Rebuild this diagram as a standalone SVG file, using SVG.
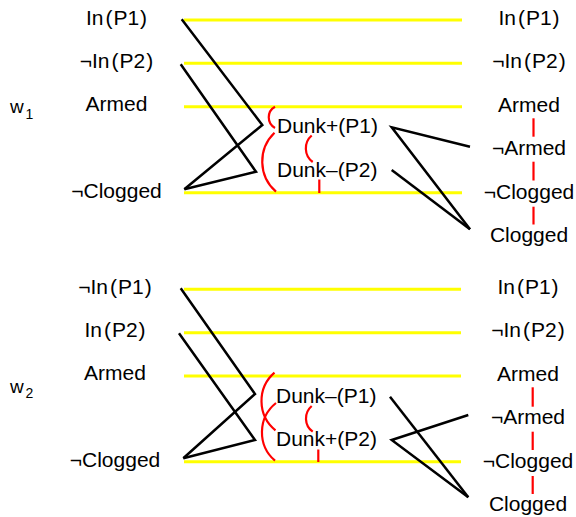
<svg xmlns="http://www.w3.org/2000/svg" width="576" height="517" viewBox="0 0 576 517">
  <defs>
    <style>
      text { font-family: "Liberation Sans", Arial, sans-serif; font-size: 21px; fill: #000; }
      .lbl { text-anchor: middle; }
      .w { font-size: 19px; }
      .sub { font-size: 14px; }
      .track { stroke: #ffff00; stroke-width: 3; fill: none; }
      .link { stroke: #000; stroke-width: 2.5; fill: none; stroke-linejoin: miter; }
      .mutex { stroke: #ff0000; stroke-width: 2.2; fill: none; }
    </style>
  </defs>
  <rect width="576" height="517" fill="#fff"/>

  <!-- persistence tracks -->
  <g id="tracks">
    <line class="track" x1="184" y1="20" x2="462" y2="20"/>
    <line class="track" x1="184" y1="63.3" x2="462" y2="63.3"/>
    <line class="track" x1="184" y1="106.7" x2="462" y2="106.7"/>
    <line class="track" x1="184" y1="192.7" x2="462" y2="192.7"/>
    <line class="track" x1="184" y1="289.3" x2="461" y2="289.3"/>
    <line class="track" x1="184" y1="332.7" x2="461" y2="332.7"/>
    <line class="track" x1="184" y1="376" x2="461" y2="376"/>
    <line class="track" x1="184" y1="461.7" x2="461" y2="461.7"/>
  </g>

  <!-- world labels -->
  <g id="w1"><text class="w" x="10" y="113">w</text><text class="sub" x="25.5" y="119">1</text></g>
  <g id="w2"><text class="w" x="10" y="392.5">w</text><text class="sub" x="25.5" y="398">2</text></g>

  <!-- world 1: initial literals -->
  <g id="w1-in-p1"><text class="lbl" x="116.5" y="25">In<tspan dx="2">(</tspan><tspan dx="1">P1</tspan><tspan dx="1">)</tspan></text></g>
  <g id="w1-not-in-p2"><text class="lbl" x="116.5" y="68">¬In<tspan dx="2">(</tspan><tspan dx="1">P2</tspan><tspan dx="1">)</tspan></text></g>
  <g id="w1-armed"><text class="lbl" x="116.5" y="111">Armed</text></g>
  <g id="w1-not-clogged"><text class="lbl" x="116.5" y="198">¬Clogged</text></g>

  <!-- world 1: actions -->
  <g id="w1-dunk-plus-p1"><text x="277" y="133">Dunk+(P1)</text></g>
  <g id="w1-dunk-minus-p2"><text x="277" y="177">Dunk–(P2)</text></g>

  <!-- world 1: next-level literals -->
  <g id="w1-r-in-p1"><text class="lbl" x="529" y="25">In<tspan dx="2">(</tspan><tspan dx="1">P1</tspan><tspan dx="1">)</tspan></text></g>
  <g id="w1-r-not-in-p2"><text class="lbl" x="529" y="68">¬In<tspan dx="2">(</tspan><tspan dx="1">P2</tspan><tspan dx="1">)</tspan></text></g>
  <g id="w1-r-armed"><text class="lbl" x="529" y="111.5">Armed</text></g>
  <g id="w1-r-not-armed"><text class="lbl" x="529" y="155">¬Armed</text></g>
  <g id="w1-r-not-clogged"><text class="lbl" x="529" y="199">¬Clogged</text></g>
  <g id="w1-r-clogged"><text class="lbl" x="529" y="242">Clogged</text></g>

  <!-- world 2: initial literals -->
  <g id="w2-not-in-p1"><text class="lbl" x="115" y="294">¬In<tspan dx="2">(</tspan><tspan dx="1">P1</tspan><tspan dx="1">)</tspan></text></g>
  <g id="w2-in-p2"><text class="lbl" x="115" y="337">In<tspan dx="2">(</tspan><tspan dx="1">P2</tspan><tspan dx="1">)</tspan></text></g>
  <g id="w2-armed"><text class="lbl" x="115" y="380">Armed</text></g>
  <g id="w2-not-clogged"><text class="lbl" x="115" y="467">¬Clogged</text></g>

  <!-- world 2: actions -->
  <g id="w2-dunk-minus-p1"><text x="276" y="402.5">Dunk–(P1)</text></g>
  <g id="w2-dunk-plus-p2"><text x="276" y="446">Dunk+(P2)</text></g>

  <!-- world 2: next-level literals -->
  <g id="w2-r-in-p1"><text class="lbl" x="528" y="294">In<tspan dx="2">(</tspan><tspan dx="1">P1</tspan><tspan dx="1">)</tspan></text></g>
  <g id="w2-r-not-in-p2"><text class="lbl" x="528" y="337">¬In<tspan dx="2">(</tspan><tspan dx="1">P2</tspan><tspan dx="1">)</tspan></text></g>
  <g id="w2-r-armed"><text class="lbl" x="528" y="380.5">Armed</text></g>
  <g id="w2-r-not-armed"><text class="lbl" x="528" y="424">¬Armed</text></g>
  <g id="w2-r-not-clogged"><text class="lbl" x="528" y="468">¬Clogged</text></g>
  <g id="w2-r-clogged"><text class="lbl" x="528" y="511">Clogged</text></g>

  <!-- precondition / effect edges -->
  <g id="connectors">
    <polyline class="link" points="181.7,19.3 262.3,125 184.3,189.3"/>
    <polyline class="link" points="180.7,64.3 256,171.7 184.3,189.3"/>
    <polyline class="link" points="470,146.7 391.7,127.3 470,229.3"/>
    <line class="link" x1="391.7" y1="170" x2="470" y2="229.3"/>

    <polyline class="link" points="180.7,288.3 255,394 183.3,458.3"/>
    <polyline class="link" points="179,333.3 255,440 183.3,458.3"/>
    <line class="link" x1="390" y1="396.7" x2="468.3" y2="497.3"/>
    <polyline class="link" points="468.3,415 391.7,440 468.3,497.3"/>
  </g>

  <!-- mutex marks -->
  <g id="mutexes">
    <path class="mutex" d="M275,106.7 A12.2,12.2 0 0 0 275,128"/>
    <path class="mutex" d="M274.5,132.7 A40,40 0 0 0 276,191.7"/>
    <path class="mutex" d="M311.7,135.5 A17,17 0 0 0 312.7,162"/>
    <line class="mutex" x1="319.3" y1="179.5" x2="319.3" y2="193"/>
    <line class="mutex" x1="533.5" y1="118.3" x2="533.5" y2="136.7"/>
    <line class="mutex" x1="533.5" y1="161.7" x2="533.5" y2="180.5"/>
    <line class="mutex" x1="533.5" y1="206.7" x2="533.5" y2="224.5"/>

    <path class="mutex" d="M274.5,372.7 A37.5,37.5 0 0 0 275.5,430.3"/>
    <path class="mutex" d="M276,403 A37.5,37.5 0 0 0 275,460.7"/>
    <path class="mutex" d="M311.7,406 A16.4,16.4 0 0 0 312.7,431.7"/>
    <line class="mutex" x1="318.3" y1="449.5" x2="318.3" y2="462"/>
    <line class="mutex" x1="532.7" y1="387.3" x2="532.7" y2="406.7"/>
    <line class="mutex" x1="532.7" y1="431.7" x2="532.7" y2="450"/>
    <line class="mutex" x1="532.7" y1="476" x2="532.7" y2="494"/>
  </g>
</svg>
